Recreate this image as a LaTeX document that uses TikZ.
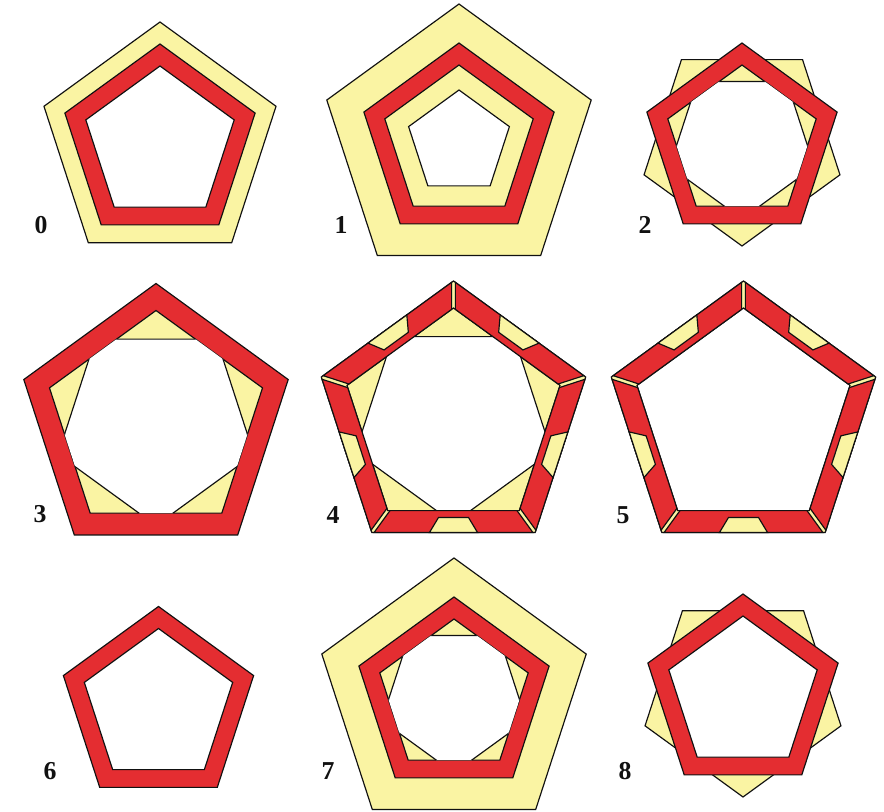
\documentclass[tikz,border=0pt]{standalone}
\usepackage{fontspec}
\setmainfont{Liberation Serif}
\usetikzlibrary{calc}
\definecolor{ink}{HTML}{111111}
\definecolor{redfill}{HTML}{E42D31}
\definecolor{yelfill}{HTML}{FAF4A3}
% regular pentagon: centre, circumradius, rotation
\newcommand\pgon[3]{($(#1)+(90+#3:#2)$) -- ($(#1)+(162+#3:#2)$) -- ($(#1)+(234+#3:#2)$) -- ($(#1)+(306+#3:#2)$) -- ($(#1)+(18+#3:#2)$) -- cycle}
\begin{document}
\begin{tikzpicture}[x=0.03cm,y=0.03cm,line join=miter,
  band/.style={fill=redfill,draw=ink,line width=1pt},
  yel/.style={fill=yelfill,draw=ink,line width=1pt},
  hole/.style={fill=white,draw=ink,line width=1pt},
  lbl/.style={font=\fontsize{22}{24}\selectfont\bfseries,text=ink,inner sep=0pt}]
  \useasboundingbox[fill=white] (0,0) rectangle (884,812);
  % panel centres
  \coordinate (p0) at (160,668);
  \coordinate (p1) at (459,669);
  \coordinate (p2) at (742,669);
  \coordinate (p3) at (156,389.5);
  \coordinate (p4) at (453.5,392);
  \coordinate (p5) at (743.5,392);
  \coordinate (p6) at (158.5,105.5);
  \coordinate (p7) at (454,115);
  \coordinate (p8) at (743,118);

  % 0
  \draw[yel] \pgon{p0}{122}{0};
  \draw[band] \pgon{p0}{100}{0};
  \draw[hole] \pgon{p0}{78}{0};
  % 1
  \draw[yel] \pgon{p1}{139}{0};
  \draw[band] \pgon{p1}{100}{0};
  \draw[yel] \pgon{p1}{78}{0};
  \draw[hole] \pgon{p1}{53}{0};
  % 2
  \draw[yel] \pgon{p2}{103}{36};
  \draw[band] \pgon{p2}{100}{0};
  \draw[yel] \pgon{p2}{78}{0};
  \begin{scope}
    \clip \pgon{p2}{78}{0};
    \draw[hole] \pgon{p2}{76}{36};
  \end{scope}
  % 3
  \draw[band] \pgon{p3}{139}{0};
  \draw[yel] \pgon{p3}{112}{0};
  \begin{scope}
    \clip \pgon{p3}{112}{0};
    \draw[hole] \pgon{p3}{103}{36};
  \end{scope}
  % 4
  \draw[yel] \pgon{p4}{139}{0};
  \draw[yel] \pgon{p4}{112}{0};
  \begin{scope}
    \clip \pgon{p4}{112}{0};
    \draw[hole] \pgon{p4}{103}{36};
  \end{scope}
  % 5
  \draw[yel] \pgon{p5}{139}{0};
  \draw[hole] \pgon{p5}{112}{0};
  % split bands of 4 and 5
  \foreach \c in {p4,p5}{
    \foreach \k in {0,...,4}{
      \pgfmathsetmacro\a{90+72*\k}
      \pgfmathsetmacro\b{\a+72}
      \pgfmathsetmacro\m{\a+36}
      \coordinate (o1) at ($(\c)+(\a:139)$);
      \coordinate (o2) at ($(\c)+(\b:139)$);
      \coordinate (i1) at ($(\c)+(\a:112)$);
      \coordinate (i2) at ($(\c)+(\b:112)$);
      \draw[band] ($(o1)!0.07cm!(o2)$) -- ($(o2)!0.07cm!(o1)$)
        -- ($(i2)!0.07cm!(i1)$) -- ($(i1)!0.07cm!(i2)$) -- cycle;
      \draw[yel] ($(\c)+(\m:112.45)+(\m+90:24)$) -- ($(\c)+(\m:112.45)+(\m-90:24)$)
        -- ($(\c)+(\m:97.5)+(\m-90:15)$) -- ($(\c)+(\m:97.5)+(\m+90:15)$) -- cycle;
    }
  }
  % 6
  \draw[band] \pgon{p6}{100}{0};
  \draw[hole] \pgon{p6}{78}{0};
  % 7
  \draw[yel] \pgon{p7}{139}{0};
  \draw[band] \pgon{p7}{100}{0};
  \draw[yel] \pgon{p7}{78}{0};
  \begin{scope}
    \clip \pgon{p7}{78}{0};
    \draw[hole] \pgon{p7}{76}{36};
  \end{scope}
  % 8
  \draw[yel] \pgon{p8}{103}{36};
  \draw[band] \pgon{p8}{100}{0};
  \draw[hole] \pgon{p8}{78}{0};

  % numbers
  \node[lbl] (l0) at (41,587) {0};
  \node[lbl] (l1) at (341,587) {1};
  \node[lbl] (l2) at (645,587) {2};
  \node[lbl] (l3) at (40,298) {3};
  \node[lbl] (l4) at (333,297) {4};
  \node[lbl] (l5) at (623,297) {5};
  \node[lbl] (l6) at (50,41) {6};
  \node[lbl] (l7) at (328,41) {7};
  \node[lbl] (l8) at (625,41) {8};
\end{tikzpicture}
\end{document}
